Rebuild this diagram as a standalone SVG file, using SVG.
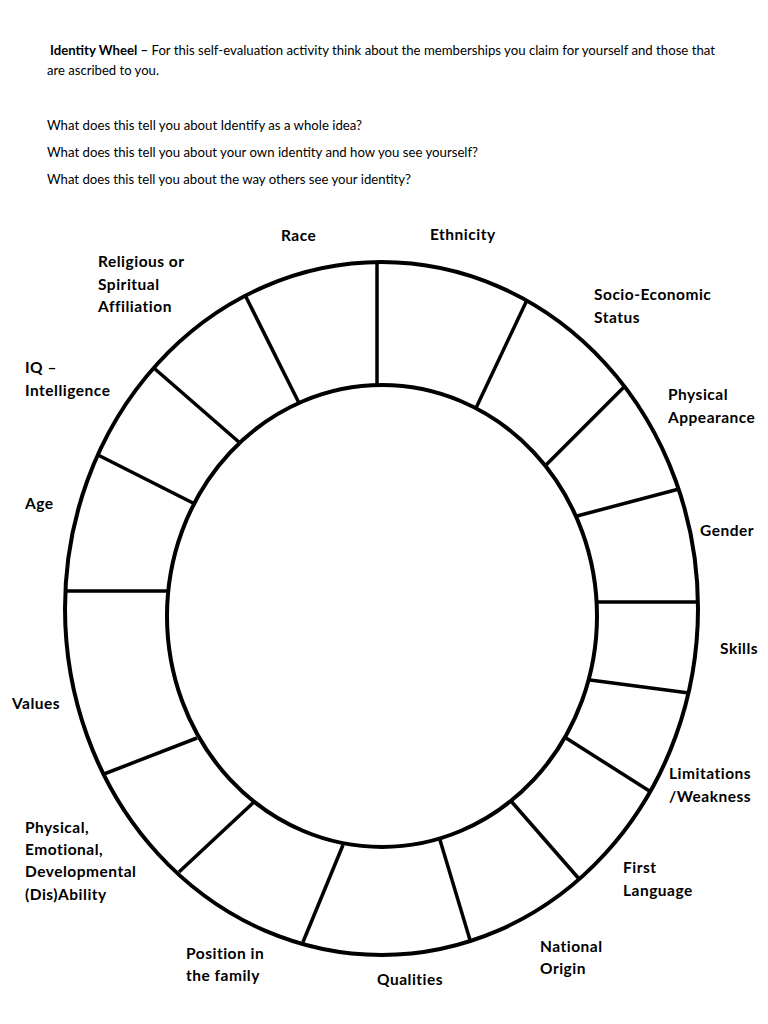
<svg xmlns="http://www.w3.org/2000/svg" width="768" height="1024" viewBox="0 0 768 1024">
<style>
.t{font-family:Lato,"Open Sans","Liberation Sans",sans-serif;font-size:14px;fill:#000}
.b{font-weight:bold}
.l{font-family:Lato,"Open Sans","Liberation Sans",sans-serif;font-size:15.5px;letter-spacing:0.5px;font-weight:bold;fill:#000}
.ring{fill:none;stroke:#000;stroke-width:4}
.sp{stroke:#000;stroke-width:3.5;stroke-linecap:butt}
</style>
<rect width="768" height="1024" fill="#fff"/>
<g id="header">
<text class="t" x="50" y="55" textLength="665" lengthAdjust="spacingAndGlyphs"><tspan class="b">Identity Wheel –</tspan> For this self-evaluation activity think about the memberships you claim for yourself and those that</text>
<text class="t" x="47" y="75" textLength="112" lengthAdjust="spacingAndGlyphs">are ascribed to you.</text>
<text class="t" x="47" y="130" textLength="315" lengthAdjust="spacingAndGlyphs">What does this tell you about Identify as a whole idea?</text>
<text class="t" x="47" y="157" textLength="431" lengthAdjust="spacingAndGlyphs">What does this tell you about your own identity and how you see yourself?</text>
<text class="t" x="47" y="184" textLength="364" lengthAdjust="spacingAndGlyphs">What does this tell you about the way others see your identity?</text>
</g>
<g id="wheel">
<ellipse class="ring" cx="381.5" cy="608.5" rx="316.5" ry="346.5"/>
<ellipse class="ring" cx="382" cy="616" rx="215" ry="231"/>
</g>
<g id="spokes">
<line class="sp" x1="377" y1="262" x2="377" y2="385"/>
<line class="sp" x1="527" y1="300" x2="476" y2="408"/>
<line class="sp" x1="624" y1="387" x2="545" y2="466"/>
<line class="sp" x1="679" y1="489" x2="577" y2="516"/>
<line class="sp" x1="698" y1="602" x2="597" y2="602"/>
<line class="sp" x1="689" y1="693" x2="590" y2="680"/>
<line class="sp" x1="651" y1="792" x2="566" y2="738"/>
<line class="sp" x1="580" y1="880" x2="511" y2="801"/>
<line class="sp" x1="470" y1="940" x2="440" y2="840"/>
<line class="sp" x1="303" y1="942" x2="343" y2="845"/>
<line class="sp" x1="179" y1="872" x2="254" y2="802"/>
<line class="sp" x1="104" y1="774" x2="197" y2="738"/>
<line class="sp" x1="65" y1="591" x2="167" y2="591"/>
<line class="sp" x1="98" y1="455" x2="193" y2="503"/>
<line class="sp" x1="155" y1="369" x2="240" y2="443"/>
<line class="sp" x1="246" y1="297" x2="299" y2="403"/>
</g>
<g id="label-race"><text class="l" x="281" y="241">Race</text></g>
<g id="label-ethnicity"><text class="l" x="430" y="240">Ethnicity</text></g>
<g id="label-religious"><text class="l" x="98" y="267">Religious or</text><text class="l" x="98" y="290">Spiritual</text><text class="l" x="98" y="312">Affiliation</text></g>
<g id="label-socio"><text class="l" x="594" y="300">Socio-Economic</text><text class="l" x="594" y="323">Status</text></g>
<g id="label-iq"><text class="l" x="25" y="373">IQ –</text><text class="l" x="25" y="396">Intelligence</text></g>
<g id="label-appearance"><text class="l" x="668" y="400">Physical</text><text class="l" x="668" y="423">Appearance</text></g>
<g id="label-age"><text class="l" x="25" y="509">Age</text></g>
<g id="label-gender"><text class="l" x="700" y="536">Gender</text></g>
<g id="label-skills"><text class="l" x="720" y="654">Skills</text></g>
<g id="label-values"><text class="l" x="12" y="709">Values</text></g>
<g id="label-limitations"><text class="l" x="669" y="779">Limitations</text><text class="l" x="669" y="802">/Weakness</text></g>
<g id="label-ability"><text class="l" x="25" y="833">Physical,</text><text class="l" x="25" y="855">Emotional,</text><text class="l" x="25" y="877">Developmental</text><text class="l" x="25" y="900">(Dis)Ability</text></g>
<g id="label-language"><text class="l" x="623" y="873">First</text><text class="l" x="623" y="896">Language</text></g>
<g id="label-origin"><text class="l" x="540" y="952">National</text><text class="l" x="540" y="974">Origin</text></g>
<g id="label-position"><text class="l" x="186" y="959">Position in</text><text class="l" x="186" y="981">the family</text></g>
<g id="label-qualities"><text class="l" x="377" y="985">Qualities</text></g>
</svg>
